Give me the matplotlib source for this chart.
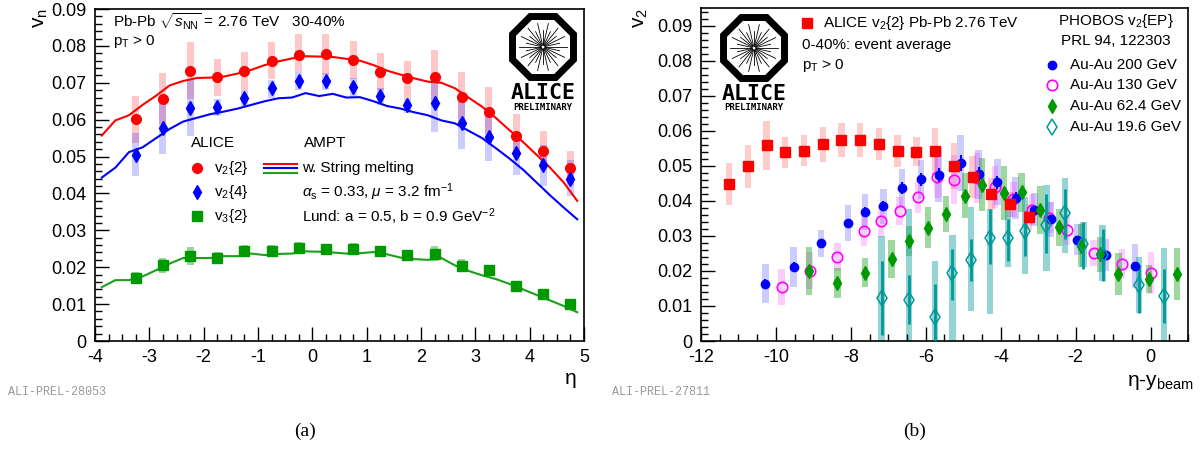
import numpy as np
import matplotlib
matplotlib.use("Agg")
import matplotlib.pyplot as plt
from matplotlib.lines import Line2D
from matplotlib.patches import RegularPolygon
from matplotlib.ticker import MultipleLocator, FuncFormatter

plt.rcParams["font.family"] = ["Liberation Sans", "DejaVu Sans"]
plt.rcParams["mathtext.fontset"] = "custom"
plt.rcParams["mathtext.rm"] = "Liberation Sans"
plt.rcParams["mathtext.it"] = "Liberation Sans:italic"
plt.rcParams["mathtext.bf"] = "Liberation Sans:bold"
plt.rcParams["axes.unicode_minus"] = False

# ---- panel (a): ALICE 30-40% vs AMPT ----
eta = [-3.25, -2.75, -2.25, -1.75, -1.25, -0.75, -0.25, 0.25, 0.75,
       1.25, 1.75, 2.25, 2.75, 3.25, 3.75, 4.25, 4.75]
v22 = [0.0602, 0.0657, 0.0732, 0.0716, 0.0732, 0.0759, 0.0776, 0.0778, 0.0761,
       0.0730, 0.0714, 0.0716, 0.0661, 0.0622, 0.0556, 0.0515, 0.0468]
v22_sys_lo = [0.0538, 0.0588, 0.0656, 0.0664, 0.0680, 0.0710, 0.0730, 0.0724, 0.0710,
              0.0680, 0.0660, 0.0636, 0.0588, 0.0560, 0.0500, 0.0467, 0.0423]
v22_sys_hi = [0.0664, 0.0727, 0.0810, 0.0764, 0.0784, 0.0810, 0.0832, 0.0832, 0.0814,
              0.0780, 0.0760, 0.0790, 0.0730, 0.0688, 0.0616, 0.0570, 0.0515]
v24 = [0.0505, 0.0578, 0.0631, 0.0635, 0.0660, 0.0685, 0.0705, 0.0704, 0.0689,
       0.0663, 0.0639, 0.0644, 0.0592, 0.0554, 0.0509, 0.0476, 0.0440]
v24_sys_lo = [0.0446, 0.0506, 0.0556, 0.0610, 0.0637, 0.0660, 0.0680, 0.0680, 0.0660,
              0.0640, 0.0617, 0.0566, 0.0520, 0.0487, 0.0450, 0.0420, 0.0392]
v24_sys_hi = [0.0565, 0.0645, 0.0707, 0.0655, 0.0680, 0.0707, 0.0730, 0.0727, 0.0712,
              0.0686, 0.0660, 0.0720, 0.0662, 0.0620, 0.0565, 0.0530, 0.0490]
v32 = [0.0172, 0.0205, 0.0230, 0.0225, 0.0244, 0.0244, 0.0252, 0.0249, 0.0250,
       0.0243, 0.0232, 0.0237, 0.0204, 0.0193, 0.0149, 0.0127, 0.0100]
v32_sys = [0.0016, 0.0020, 0.0024, 0.0015, 0.0015, 0.0015, 0.0016, 0.0015, 0.0015,
           0.0015, 0.0014, 0.0020, 0.0017, 0.0014, 0.0012, 0.0010, 0.0008]

ampt_eta = [-3.875, -3.625, -3.375, -3.125, -2.875, -2.625, -2.375, -2.125, -1.875,
            -1.625, -1.375, -1.125, -0.875, -0.625, -0.375, -0.125, 0.125, 0.375,
            0.625, 0.875, 1.125, 1.375, 1.625, 1.875, 2.125, 2.375, 2.625,
            2.875, 3.125, 3.375, 3.625, 3.875, 4.125, 4.375, 4.625, 4.875]
ampt_v22 = [0.0557, 0.0598, 0.0612, 0.0640, 0.0665, 0.0693, 0.0705, 0.0713, 0.0714,
            0.0717, 0.0725, 0.0735, 0.0748, 0.0758, 0.0766, 0.0772, 0.0771, 0.0770,
            0.0765, 0.0760, 0.0748, 0.0733, 0.0722, 0.0712, 0.0703, 0.0700, 0.0685,
            0.0660, 0.0635, 0.0605, 0.0572, 0.0540, 0.0505, 0.0470, 0.0430, 0.0380]
ampt_v24 = [0.0443, 0.0470, 0.0512, 0.0525, 0.0550, 0.0575, 0.0595, 0.0605, 0.0615,
            0.0622, 0.0630, 0.0640, 0.0650, 0.0658, 0.0660, 0.0672, 0.0664, 0.0670,
            0.0660, 0.0661, 0.0650, 0.0637, 0.0630, 0.0620, 0.0612, 0.0598, 0.0590,
            0.0570, 0.0550, 0.0523, 0.0495, 0.0465, 0.0430, 0.0395, 0.0362, 0.0330]
ampt_v32 = [0.0146, 0.0165, 0.0165, 0.0175, 0.0192, 0.0210, 0.0225, 0.0225, 0.0225,
            0.0230, 0.0230, 0.0237, 0.0233, 0.0236, 0.0237, 0.0243, 0.0242, 0.0240,
            0.0237, 0.0238, 0.0241, 0.0235, 0.0226, 0.0222, 0.0220, 0.0225, 0.0205,
            0.0190, 0.0178, 0.0168, 0.0155, 0.0140, 0.0125, 0.0110, 0.0095, 0.0078]

# ---- panel (b): v2 vs eta - y_beam ----
alice_x = [-11.25, -10.75, -10.25, -9.75, -9.25, -8.75, -8.25, -7.75, -7.25,
           -6.75, -6.25, -5.75, -5.25, -4.75, -4.25, -3.75, -3.25]
alice_v2 = [0.0447, 0.0498, 0.0558, 0.0538, 0.0543, 0.0561, 0.0574, 0.0574, 0.0562,
            0.0542, 0.0540, 0.0541, 0.0500, 0.0469, 0.0420, 0.0390, 0.0354]
alice_sys = [0.0060, 0.0062, 0.0070, 0.0045, 0.0045, 0.0050, 0.0048, 0.0048, 0.0047,
             0.0045, 0.0042, 0.0068, 0.0065, 0.0060, 0.0045, 0.0036, 0.0036]

p200_x = [-10.28, -9.53, -8.79, -8.08, -7.63, -7.13, -6.63, -6.12, -5.66,
          -5.07, -4.59, -4.09, -3.60, -3.10, -2.67, -1.95, -1.19, -0.41]
p200_v2 = [0.0164, 0.0212, 0.0279, 0.0336, 0.0368, 0.0385, 0.0437, 0.0461, 0.0474,
           0.0508, 0.0476, 0.0453, 0.0409, 0.0374, 0.0347, 0.0289, 0.0246, 0.0213]
p200_stat = [0.0012, 0.0012, 0.0010, 0.0012, 0.0014, 0.0014, 0.0018, 0.0018, 0.0020,
             0.0022, 0.0020, 0.0018, 0.0015, 0.0013, 0.0012, 0.0010, 0.0010, 0.0012]
p200_sys = [0.0057, 0.0057, 0.0038, 0.0051, 0.0051, 0.0050, 0.0054, 0.0055, 0.0078,
            0.0079, 0.0070, 0.0066, 0.0060, 0.0047, 0.0049, 0.0045, 0.0046, 0.0063]

p130_x = [-9.85, -9.10, -8.36, -7.65, -7.20, -6.70, -6.20, -5.69, -5.25,
          -4.64, -4.16, -3.66, -3.17, -2.70, -2.24, -1.52, -0.76, 0.02]
p130_v2 = [0.0155, 0.0201, 0.0240, 0.0315, 0.0343, 0.0372, 0.0411, 0.0469, 0.0460,
           0.0465, 0.0440, 0.0405, 0.0375, 0.0352, 0.0317, 0.0251, 0.0221, 0.0195]
p130_sys = [0.0051, 0.0052, 0.0040, 0.0045, 0.0045, 0.0040, 0.0045, 0.0060, 0.0070,
            0.0070, 0.0060, 0.0050, 0.0045, 0.0045, 0.0043, 0.0038, 0.0042, 0.0060]

p62_x = [-9.11, -8.36, -7.63, -6.91, -6.44, -5.94, -5.46, -4.95, -4.50,
         -3.91, -3.44, -2.95, -2.45, -1.85, -1.35, -0.86, -0.04, 0.71]
p62_v2 = [0.0200, 0.0166, 0.0195, 0.0234, 0.0285, 0.0323, 0.0363, 0.0415, 0.0446,
          0.0423, 0.0424, 0.0374, 0.0324, 0.0272, 0.0248, 0.0192, 0.0176, 0.0191]
p62_stat = [0.0010, 0.0010, 0.0010, 0.0012, 0.0012, 0.0012, 0.0012, 0.0013, 0.0015,
            0.0015, 0.0015, 0.0014, 0.0012, 0.0012, 0.0012, 0.0010, 0.0010, 0.0010]
p62_sys = [0.0069, 0.0042, 0.0042, 0.0053, 0.0043, 0.0058, 0.0052, 0.0064, 0.0076,
           0.0077, 0.0055, 0.0068, 0.0052, 0.0062, 0.0050, 0.0060, 0.0040, 0.0075]

p19_x = [-7.18, -6.44, -5.75, -5.29, -4.80, -4.29, -3.80, -3.35, -2.78,
         -2.28, -1.79, -1.28, -0.31, 0.36]
p19_v2 = [0.0124, 0.0117, 0.0069, 0.0195, 0.0230, 0.0295, 0.0295, 0.0315, 0.0330,
          0.0366, 0.0277, 0.0245, 0.0160, 0.0128]
p19_stat_lo = [0.0017, 0.0048, 0.0000, 0.0117, 0.0171, 0.0219, 0.0229, 0.0243, 0.0250,
               0.0290, 0.0206, 0.0172, 0.0080, 0.0050]
p19_stat_hi = [0.0227, 0.0189, 0.0164, 0.0262, 0.0290, 0.0376, 0.0348, 0.0371, 0.0420,
               0.0433, 0.0339, 0.0320, 0.0218, 0.0205]
p19_sys_lo = [0.0000, 0.0000, 0.0000, 0.0000, 0.0086, 0.0076, 0.0210, 0.0190, 0.0201,
              0.0252, 0.0210, 0.0172, 0.0080, 0.0000]
p19_sys_hi = [0.0300, 0.0376, 0.0229, 0.0303, 0.0383, 0.0376, 0.0410, 0.0410, 0.0444,
              0.0464, 0.0339, 0.0330, 0.0240, 0.0265]

W, H = 1200, 451
RED, BLUE, GREEN, MAGENTA, TEAL = "#ff0000", "#0000ff", "#009900", "#ff00ff", "#009999"

fig = plt.figure(figsize=(12, 4.51), dpi=100)


def rect(x0, y0, x1, y1):
    """Figure rectangle from pixel corners (y measured from the top)."""
    return [x0 / W, 1 - y1 / H, (x1 - x0) / W, (y1 - y0) / H]


def fig_text(px, py, s, **kw):
    kw.setdefault("fontsize", 11)
    kw.setdefault("va", "center")
    fig.text(px / W, 1 - py / H, s, **kw)


def fig_marker(px, py, **kw):
    fig.add_artist(Line2D([px / W], [1 - py / H], transform=fig.transFigure, **kw))


def style_axes(ax, xmaj, xmin, ymaj, ymin):
    ax.xaxis.set_major_locator(MultipleLocator(xmaj))
    ax.xaxis.set_minor_locator(MultipleLocator(xmin))
    ax.yaxis.set_major_locator(MultipleLocator(ymaj))
    ax.yaxis.set_minor_locator(MultipleLocator(ymin))
    ax.yaxis.set_major_formatter(
        FuncFormatter(lambda v, p: "0" if abs(v) < 1e-9 else f"{v:.2f}"))
    ax.xaxis.set_major_formatter(FuncFormatter(lambda v, p: f"{v:.0f}"))
    ax.tick_params(which="both", direction="in", top=False, right=False,
                   labelsize=13, width=1.0)
    ax.tick_params(axis="x", pad=6)
    ax.tick_params(axis="y", pad=6)
    ax.tick_params(which="major", length=10)
    ax.tick_params(which="minor", length=5)
    for spine in ax.spines.values():
        spine.set_linewidth(1.2)


def draw_logo(cx, cy):
    lax = fig.add_axes(rect(cx - 42, cy - 36, cx + 42, cy + 68))
    lax.set_xlim(-42, 42)
    lax.set_ylim(68, -36)
    lax.axis("off")
    lax.add_patch(RegularPolygon((0, 0), 8, radius=33, orientation=np.pi / 8,
                                 fill=False, lw=5, edgecolor="black"))
    for k, ang in enumerate(np.linspace(0, 2 * np.pi, 28, endpoint=False)):
        r_out = 24 if k % 2 == 0 else 17
        lax.plot([2 * np.cos(ang), r_out * np.cos(ang)],
                 [2 * np.sin(ang), r_out * np.sin(ang)], color="black", lw=0.6)
    lax.text(0, 46, "ALICE", ha="center", va="center", fontsize=15.5,
             family="DejaVu Sans Mono", weight="bold")
    lax.text(0, 60, "PRELIMINARY", ha="center", va="center", fontsize=6.5,
             family="DejaVu Sans Mono", weight="bold")


# ================= panel (a) =================
ax_a = fig.add_axes(rect(95, 9, 584, 341))
ax_a.set_xlim(-4, 5)
ax_a.set_ylim(0, 0.09)
style_axes(ax_a, 1, 0.25, 0.01, 0.002)

ax_a.bar(eta, np.subtract(v22_sys_hi, v22_sys_lo), bottom=v22_sys_lo, width=0.13,
         color=RED, alpha=0.22, linewidth=0, zorder=1)
ax_a.bar(eta, np.subtract(v24_sys_hi, v24_sys_lo), bottom=v24_sys_lo, width=0.13,
         color=BLUE, alpha=0.2, linewidth=0, zorder=1)
ax_a.bar(eta, 2 * np.array(v32_sys), bottom=np.subtract(v32, v32_sys), width=0.13,
         color=GREEN, alpha=0.4, linewidth=0, zorder=1)

ax_a.plot(ampt_eta, ampt_v22, color=RED, lw=1.5, zorder=2)
ax_a.plot(ampt_eta, ampt_v24, color=BLUE, lw=1.5, zorder=2)
ax_a.plot(ampt_eta, ampt_v32, color="#1aa01a", lw=1.5, zorder=2)

ax_a.plot(eta, v22, "o", color=RED, ms=7, zorder=3)
ax_a.plot(eta, v24, "d", color=BLUE, ms=7.5, zorder=3)
ax_a.plot(eta, v32, "s", color=GREEN, ms=6.5, zorder=3)

fig_text(113, 22, r"Pb-Pb $\sqrt{s_{\rm NN}}$ = 2.76 TeV   30-40%")
fig_text(113, 42, r"p$_{\rm T}$ > 0")
fig_text(191, 143, "ALICE")
fig_text(304, 143, "AMPT")
fig_marker(197, 168, marker="o", color=RED, ms=7, ls="none")
fig_marker(197, 192, marker="d", color=BLUE, ms=7.5, ls="none")
fig_marker(197, 216, marker="s", color=GREEN, ms=6.5, ls="none")
fig_text(214, 168, r"v$_2${2}")
fig_text(214, 192, r"v$_2${4}")
fig_text(214, 216, r"v$_3${2}")
for py, col in [(164, RED), (168.5, BLUE), (173, "#1aa01a")]:
    fig.add_artist(Line2D([264 / W, 297 / W], [1 - py / H, 1 - py / H],
                          transform=fig.transFigure, color=col, lw=1.5))
fig_text(302, 168, "w. String melting")
fig_text(302, 192, r"$\alpha_{\rm s}$ = 0.33, $\mu$ = 3.2 fm$^{-1}$")
fig_text(302, 217, r"Lund: a = 0.5, b = 0.9 GeV$^{-2}$")

fig_text(41, 18, r"v$_{\rm n}$", fontsize=15, rotation=90, ha="center")
fig_text(577, 379, "η", fontsize=15, ha="right")
fig_text(8, 392, "ALI-PREL-28053", fontsize=8.5, family="Liberation Mono", color="#9a9a9a")
fig_text(305, 431, "(a)", fontsize=14, family="Liberation Serif", ha="center")
draw_logo(543, 47)

# ================= panel (b) =================
ax_b = fig.add_axes(rect(701, 8, 1188, 341))
ax_b.set_xlim(-12, 1)
ax_b.set_ylim(0, 0.095)
style_axes(ax_b, 2, 0.5, 0.01, 0.002)

bw = 0.17
ax_b.bar(alice_x, 2 * np.array(alice_sys), bottom=np.subtract(alice_v2, alice_sys),
         width=bw, color=RED, alpha=0.2, linewidth=0, zorder=1)
ax_b.bar(p200_x, 2 * np.array(p200_sys), bottom=np.subtract(p200_v2, p200_sys),
         width=bw, color=BLUE, alpha=0.2, linewidth=0, zorder=1)
ax_b.bar(p130_x, 2 * np.array(p130_sys), bottom=np.subtract(p130_v2, p130_sys),
         width=bw, color=MAGENTA, alpha=0.2, linewidth=0, zorder=1)
ax_b.bar(p62_x, 2 * np.array(p62_sys), bottom=np.subtract(p62_v2, p62_sys),
         width=bw, color=GREEN, alpha=0.38, linewidth=0, zorder=1)
ax_b.bar(p19_x, np.subtract(p19_sys_hi, p19_sys_lo), bottom=p19_sys_lo,
         width=bw, color=TEAL, alpha=0.42, linewidth=0, zorder=1)

ax_b.errorbar(p200_x, p200_v2, yerr=p200_stat, fmt="o", color=BLUE, ms=6,
              elinewidth=1.5, capsize=0, zorder=3)
ax_b.plot(p130_x, p130_v2, "o", mfc="none", mec=MAGENTA, mew=1.2, ms=7.5, zorder=3)
ax_b.errorbar(p62_x, p62_v2, yerr=p62_stat, fmt="d", color=GREEN, ms=7,
              elinewidth=1.5, capsize=0, zorder=3)
p19_err = [np.subtract(p19_v2, p19_stat_lo), np.subtract(p19_stat_hi, p19_v2)]
ax_b.errorbar(p19_x, p19_v2, yerr=p19_err, fmt="d", mfc="none", mec=TEAL, mew=1.1,
              ms=8.5, ecolor=TEAL, elinewidth=2.0, capsize=0, zorder=3)
ax_b.plot(alice_x, alice_v2, "s", color=RED, ms=6.5, zorder=4)

fig_marker(807, 23, marker="s", color=RED, ms=6.5, ls="none")
fig_text(823, 23, r"ALICE v$_2${2} Pb-Pb 2.76 TeV")
fig_text(802, 45, "0-40%: event average")
fig_text(802, 66, r"p$_{\rm T}$ > 0")
fig_text(1116, 21, r"PHOBOS v$_2${EP}", ha="center")
fig_text(1116, 41, "PRL 94, 122303", ha="center")
fig_marker(1052, 65, marker="o", color=BLUE, ms=6, ls="none")
fig_marker(1052, 85, marker="o", mfc="none", mec=MAGENTA, mew=1.2, ms=7.5, ls="none")
fig_marker(1052, 106, marker="d", color=GREEN, ms=7, ls="none")
fig_marker(1052, 127, marker="d", mfc="none", mec=TEAL, mew=1.1, ms=8.5, ls="none")
fig_text(1070, 65, "Au-Au 200 GeV")
fig_text(1070, 85, "Au-Au 130 GeV")
fig_text(1070, 106, "Au-Au 62.4 GeV")
fig_text(1070, 127, "Au-Au 19.6 GeV")

fig_text(641, 18, r"v$_2$", fontsize=15, rotation=90, ha="center")
fig_text(1194, 382, r"η-y$_{\rm beam}$", fontsize=15, ha="right")
fig_text(612, 392, "ALI-PREL-27811", fontsize=8.5, family="Liberation Mono", color="#9a9a9a")
fig_text(915, 431, "(b)", fontsize=14, family="Liberation Serif", ha="center")
draw_logo(754, 48)

fig.savefig("out.png", dpi=100)
